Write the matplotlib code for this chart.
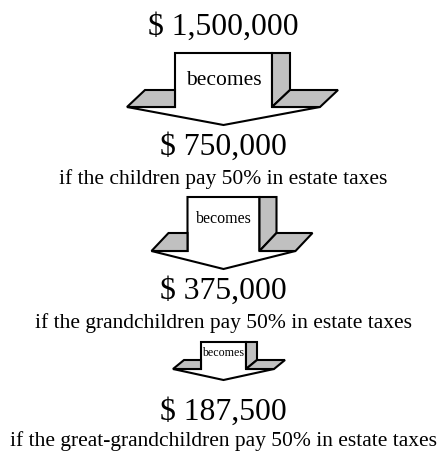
import matplotlib
matplotlib.use("Agg")
import matplotlib.pyplot as plt
from matplotlib.patches import Polygon

# ---- content ----
amounts = ["$ 1,500,000", "$ 750,000", "$ 375,000", "$ 187,500"]
heirs = ["children", "grandchildren", "great-grandchildren"]
arrow_label = "becomes"
tax_rate = "50%"

# ---- layout (pixel units, y downward) ----
amount_baselines = [35, 155, 299, 420]
caption_baselines = [184, 328, 446]
# arrow geometry: top, half shaft width, wing length, depth dx, depth dy, shaft height, head height
arrow_top = [54, 198, 343]
arrow_halfw = [48.5, 36, 22.5]
arrow_wing = [48, 36, 28]
arrow_dx = [18, 17, 11]
arrow_dy = [17, 18, 9]
arrow_shaft_h = [54, 54, 27]
arrow_head_h = [18, 18, 11]
label_size = [15.5, 11.5, 8.6]
label_baseline = [85, 223, 356.5]
cx = 223.5

W, H = 439, 452
fig = plt.figure(figsize=(W / 100, H / 100), dpi=100)
ax = fig.add_axes([0, 0, 1, 1])
ax.set_xlim(0, W)
ax.set_ylim(H, 0)
ax.axis("off")

font = ["Liberation Serif", "DejaVu Serif"]
gray = "#c0c0c0"
lw = 1.5


def draw_arrow(i):
    y0 = arrow_top[i]
    w = arrow_halfw[i]
    L = arrow_wing[i]
    dx = arrow_dx[i]
    dy = arrow_dy[i]
    yb = y0 + arrow_shaft_h[i]
    h = arrow_head_h[i]
    xl, xr = cx - w, cx + w
    front = [(xl, y0), (xr, y0), (xr, yb), (xr + L, yb), (cx, yb + h),
             (xl - L, yb), (xl, yb)]
    side = [(xr, y0), (xr + dx, y0), (xr + dx, yb - dy), (xr, yb)]
    rwing = [(xr, yb), (xr + dx, yb - dy), (xr + L + dx, yb - dy), (xr + L, yb)]
    lwing = [(xl - L, yb), (xl - L + dx, yb - dy), (xl, yb - dy), (xl, yb)]
    ax.add_patch(Polygon(front, closed=True, facecolor="white", edgecolor="black",
                         linewidth=lw, joinstyle="miter"))
    for poly in (side, rwing, lwing):
        ax.add_patch(Polygon(poly, closed=True, facecolor=gray, edgecolor="black",
                             linewidth=lw, joinstyle="miter"))
    ax.text(cx, label_baseline[i], arrow_label, ha="center", va="baseline",
            fontsize=label_size[i], family=font, color="black")


for i, amt in enumerate(amounts):
    ax.text(cx, amount_baselines[i], amt, ha="center", va="baseline",
            fontsize=22.8, family=font, color="black")

for i, heir in enumerate(heirs):
    ax.text(cx, caption_baselines[i],
            f"if the {heir} pay {tax_rate} in estate taxes",
            ha="center", va="baseline", fontsize=15.5, family=font, color="black")
    draw_arrow(i)

fig.savefig("out.png", dpi=100)
